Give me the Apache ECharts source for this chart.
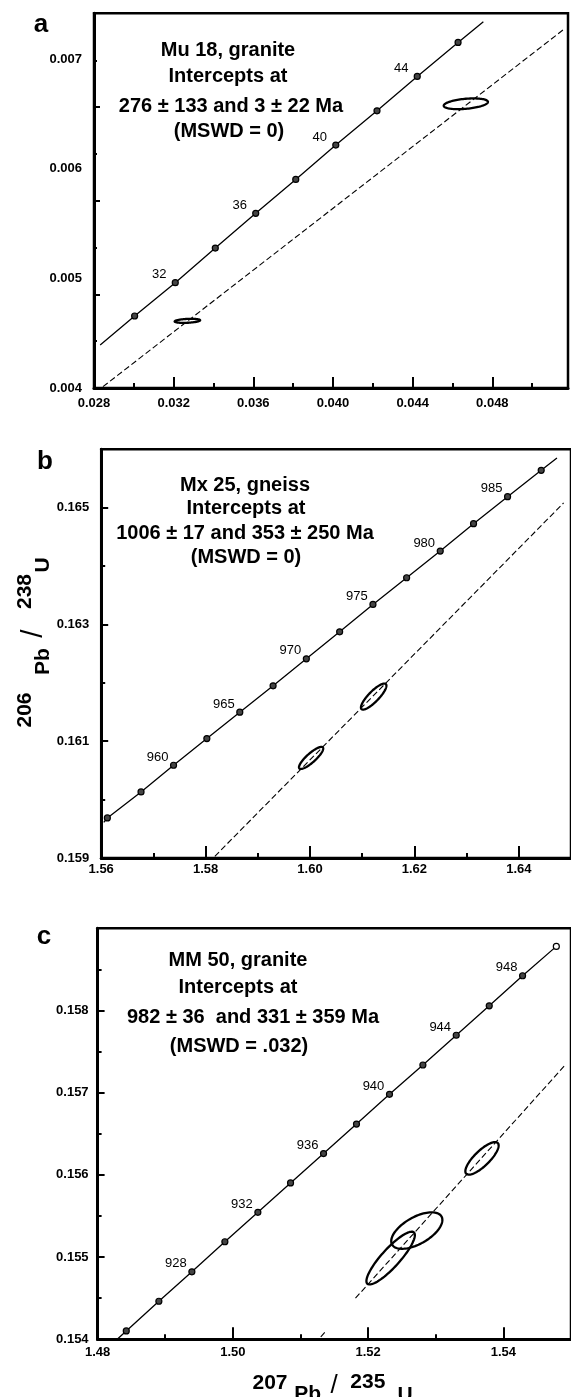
<!DOCTYPE html>
<html>
<head>
<meta charset="utf-8">
<script src="https://cdn.jsdelivr.net/npm/echarts@6/dist/echarts.min.js"></script>
<style>
html,body{margin:0;padding:0;background:#fff;}
#chart{width:571px;height:1397px;}
</style>
</head>
<body>
<div id="chart"></div>
<script>
// ---------------- DATA ----------------
// Panel a : Mu 18, granite
const concA_age = [30, 32, 34, 36, 38, 40, 42, 44, 46];
const concA_x = [0.03004, 0.03208, 0.03409, 0.03612, 0.03813, 0.04014, 0.04221, 0.04423, 0.04628];
const concA_y = [0.004657, 0.004961, 0.005277, 0.005594, 0.005904, 0.006217, 0.006530, 0.006844, 0.007154];
const concA_labeled = [32, 36, 40, 44];
const concA_start = [0.02831, 0.004392];
const concA_end = [0.04755, 0.007342];
const discA_x = [0.02845, 0.05165];
const discA_y = [0.004012, 0.007282];
// error ellipses: centre x, centre y, half-width x, half-height y, correlation
const ellA_x = [0.03269, 0.04667];
const ellA_y = [0.004613, 0.006594];
const ellA_sx = [0.00064, 0.00111];
const ellA_sy = [0.0000185, 0.000049];
const ellA_rho = [0.3, 0.35];
const textA = ['Mu 18, granite', 'Intercepts at', '276 ± 133 and 3 ± 22 Ma', '(MSWD = 0)'];

// Panel b : Mx 25, gneiss
const concB_age = [955, 957.5, 960, 962.5, 965, 967.5, 970, 972.5, 975, 977.5, 980, 982.5, 985, 987.5];
const concB_x = [1.56118, 1.56763, 1.57386, 1.58024, 1.58655, 1.59293, 1.59930, 1.60568, 1.61206, 1.61851, 1.62495, 1.63133, 1.63785, 1.64429];
const concB_y = [0.159686, 0.160131, 0.160589, 0.161046, 0.161497, 0.161949, 0.162411, 0.162874, 0.163343, 0.163800, 0.164257, 0.164726, 0.165189, 0.165640];
const concB_labeled = [960, 965, 970, 975, 980, 985];
const concB_start = [1.56049, 0.159611];
const concB_end = [1.64731, 0.165852];
const discB_x = [1.58177, 1.64858];
const discB_y = [0.159029, 0.165081];
const ellB_x = [1.60021, 1.61220];
const ellB_y = [0.160714, 0.161765];
const ellB_sx = [0.00232, 0.00244];
const ellB_sy = [0.000189, 0.000223];
const ellB_rho = [0.85, 0.84];
const textB = ['Mx 25, gneiss', 'Intercepts at', '1006 ± 17 and 353 ± 250 Ma', '(MSWD = 0)'];

// Panel c : MM 50, granite
const concC_age = [924, 926, 928, 930, 932, 934, 936, 938, 940, 942, 944, 946, 948, 950];
const concC_x = [1.48424, 1.48906, 1.49394, 1.49882, 1.50370, 1.50853, 1.51341, 1.51828, 1.52316, 1.52810, 1.53303, 1.53791, 1.54284, 1.54783];
const concC_y = [0.154102, 0.154463, 0.154821, 0.155187, 0.155545, 0.155902, 0.156260, 0.156618, 0.156980, 0.157337, 0.157699, 0.158057, 0.158423, 0.158780];
const concC_labeled = [928, 932, 936, 940, 944, 948];
const concC_hollow = [950];
const concC_start = [1.48290, 0.154000];
const discC1_x = [1.51300, 1.51370];
const discC1_y = [0.154030, 0.154095];
const discC2_x = [1.51813, 1.54901];
const discC2_y = [0.154500, 0.157325];
const ellC_x = [1.53684, 1.52720, 1.52333];
const ellC_y = [0.156201, 0.155323, 0.154988];
const ellC_sx = [0.00246, 0.00378, 0.00358];
const ellC_sy = [0.000198, 0.000222, 0.000321];
const ellC_rho = [0.79, 0.58, 0.87];
const textC = ['MM 50, granite', 'Intercepts at', '982 ± 36  and 331 ± 359 Ma', '(MSWD = .032)'];

// Axis ticks / labels
const xTickA = [0.028, 0.032, 0.036, 0.040, 0.044, 0.048];
const xMinorA = [0.030, 0.034, 0.038, 0.042, 0.046, 0.050];
const yLabA = [0.004, 0.005, 0.006, 0.007];
const yTickA = [0.004, 0.004855, 0.005710, 0.006564];
const yMinorA = [0.004427, 0.005282, 0.006137, 0.006991];
const xTickB = [1.56, 1.58, 1.60, 1.62, 1.64];
const xMinorB = [1.57, 1.59, 1.61, 1.63];
const yTickB = [0.159, 0.161, 0.163, 0.165];
const yMinorB = [0.160, 0.162, 0.164];
const xTickC = [1.48, 1.50, 1.52, 1.54];
const xMinorC = [1.49, 1.51, 1.53];
const yTickC = [0.154, 0.155, 0.156, 0.157, 0.158];
const yMinorC = [0.1545, 0.1555, 0.1565, 0.1575, 0.1585];

const panelLetters = ['a', 'b', 'c'];
const yNameB = ['206', 'Pb', '/', '238', 'U'];
const xNameC = ['207', 'Pb', '/', '235', 'U'];

// ---------------- BUILD ----------------
const FONT = '"Liberation Sans", Arial, Helvetica, sans-serif';
const zip = (xs, ys) => xs.map((x, i) => [x, ys[i]]);

function mainAxis(dim, gi, min, max, ticks, labels, dec, margin, tickLen) {
  return {
    type: 'value', gridIndex: gi, min: min, max: max,
    position: dim === 'x' ? 'bottom' : 'left',
    axisLine: { show: true, onZero: false, lineStyle: { color: '#000', width: 3 } },
    axisTick: { show: true, inside: true, length: tickLen, customValues: ticks, lineStyle: { color: '#000', width: 2 } },
    axisLabel: {
      show: true, customValues: labels, margin: margin,
      formatter: v => Number(v).toFixed(dec),
      fontFamily: FONT, fontWeight: 'bold', fontSize: 13, color: '#000'
    },
    splitLine: { show: false }
  };
}
function minorAxis(dim, gi, min, max, ticks, tickLen) {
  return {
    type: 'value', gridIndex: gi, min: min, max: max,
    position: dim === 'x' ? 'bottom' : 'left',
    axisLine: { show: false },
    axisTick: { show: true, inside: true, length: tickLen, customValues: ticks, lineStyle: { color: '#000', width: 2 } },
    axisLabel: { show: false },
    splitLine: { show: false }
  };
}

function ellipseRender(params, api) {
  const cx = api.value(0), cy = api.value(1), sx = api.value(2), sy = api.value(3), r = api.value(4);
  const k = Math.sqrt(1 - r * r);
  const pts = [];
  const n = 96;
  for (let i = 0; i < n; i++) {
    const t = i / n * 2 * Math.PI;
    pts.push(api.coord([cx + sx * Math.cos(t), cy + sy * (r * Math.cos(t) + k * Math.sin(t))]));
  }
  return { type: 'polygon', shape: { points: pts }, style: { fill: 'none', stroke: '#000', lineWidth: 2.3 } };
}

function panelSeries(ai, start, xs, ys, ages, end, labeled, hollow, discs, ell) {
  const out = [];
  const lineData = [start].concat(zip(xs, ys));
  if (end) lineData.push(end);
  out.push({
    type: 'line', xAxisIndex: ai, yAxisIndex: ai, data: lineData, symbol: 'none', showSymbol: false,
    lineStyle: { color: '#000', width: 1.3 }, silent: true, z: 2, animation: false
  });
  discs.forEach(d => out.push({
    type: 'line', xAxisIndex: ai, yAxisIndex: ai, data: zip(d[0], d[1]), symbol: 'none', showSymbol: false,
    lineStyle: { color: '#000', width: 1.1, type: [6, 3] }, silent: true, z: 2, animation: false
  }));
  out.push({
    type: 'scatter', xAxisIndex: ai, yAxisIndex: ai, symbol: 'circle', symbolSize: 6, z: 5,
    data: xs.map((x, i) => ({
      value: [x, ys[i], ages[i]],
      itemStyle: { color: hollow.includes(ages[i]) ? '#fff' : '#444', borderColor: '#000', borderWidth: 1.2, opacity: 1 }
    })),
    label: {
      show: true, position: 'inside', offset: [-16, -8], color: '#000', opacity: 1,
      fontFamily: FONT, fontSize: 13,
      formatter: p => labeled.includes(p.value[2]) ? String(p.value[2]) : ''
    },
    emphasis: { disabled: true },
    animation: false
  });
  out.push({
    type: 'custom', xAxisIndex: ai, yAxisIndex: ai, renderItem: ellipseRender, clip: true, z: 4,
    encode: { x: 0, y: 1 },
    data: ell[0].map((x, i) => [x, ell[1][i], ell[2][i], ell[3][i], ell[4][i]]),
    animation: false
  });
  return out;
}

function txt(x, y, s, size, weight) {
  return {
    type: 'text', x: x, y: y, z: 10,
    style: {
      text: s, font: weight + ' ' + size + 'px ' + FONT, fill: '#000',
      align: 'center', verticalAlign: 'middle', textAlign: 'center', textVerticalAlign: 'middle'
    }
  };
}

const grids = [
  { left: 94, top: 13.3, width: 474, height: 374.7 },
  { left: 101.2, top: 449.3, width: 473, height: 408.7 },
  { left: 97.6, top: 928.3, width: 475.6, height: 411 }
].map(g => Object.assign(g, { show: true, borderColor: '#000', borderWidth: 2.5, backgroundColor: 'transparent', containLabel: false }));

const option = {
  animation: false,
  backgroundColor: '#fff',
  grid: grids,
  xAxis: [
    mainAxis('x', 0, 0.028, 0.0518, xTickA, xTickA, 3, 9, 11),
    mainAxis('x', 1, 1.56, 1.65, xTickB, xTickB, 2, 5, 12),
    mainAxis('x', 2, 1.48, 1.55, xTickC, xTickC, 2, 7, 12),
    minorAxis('x', 0, 0.028, 0.0518, xMinorA, 5),
    minorAxis('x', 1, 1.56, 1.65, xMinorB, 5),
    minorAxis('x', 2, 1.48, 1.55, xMinorC, 5)
  ],
  yAxis: [
    mainAxis('y', 0, 0.004, 0.00742, yTickA, yLabA, 3, 12, 6),
    mainAxis('y', 1, 0.159, 0.166, yTickB, yTickB, 3, 12, 7),
    mainAxis('y', 2, 0.154, 0.159, yTickC, yTickC, 3, 9, 7),
    minorAxis('y', 0, 0.004, 0.00742, yMinorA, 3),
    minorAxis('y', 1, 0.159, 0.166, yMinorB, 4),
    minorAxis('y', 2, 0.154, 0.159, yMinorC, 4)
  ],
  series: [].concat(
    panelSeries(0, concA_start, concA_x, concA_y, concA_age, concA_end, concA_labeled, [],
      [[discA_x, discA_y]], [ellA_x, ellA_y, ellA_sx, ellA_sy, ellA_rho]),
    panelSeries(1, concB_start, concB_x, concB_y, concB_age, concB_end, concB_labeled, [],
      [[discB_x, discB_y]], [ellB_x, ellB_y, ellB_sx, ellB_sy, ellB_rho]),
    panelSeries(2, concC_start, concC_x, concC_y, concC_age, null, concC_labeled, concC_hollow,
      [[discC1_x, discC1_y], [discC2_x, discC2_y]], [ellC_x, ellC_y, ellC_sx, ellC_sy, ellC_rho])
  ),
  graphic: [
    txt(41, 25, panelLetters[0], 26, 'bold'),
    txt(45, 462, panelLetters[1], 26, 'bold'),
    txt(44, 937, panelLetters[2], 26, 'bold'),
    txt(228, 50, textA[0], 20, 'bold'),
    txt(228, 76, textA[1], 20, 'bold'),
    txt(231, 106, textA[2], 20, 'bold'),
    txt(229, 131, textA[3], 20, 'bold'),
    txt(245, 485, textB[0], 20, 'bold'),
    txt(246, 508, textB[1], 20, 'bold'),
    txt(245, 533, textB[2], 20, 'bold'),
    txt(246, 557, textB[3], 20, 'bold'),
    txt(238, 960, textC[0], 20, 'bold'),
    txt(238, 987, textC[1], 20, 'bold'),
    txt(253, 1017, textC[2], 20, 'bold'),
    txt(239, 1046, textC[3], 20, 'bold'),
    {
      type: 'group', x: 33, y: 642, rotation: Math.PI / 2,
      children: [
        txt(-68, -7.5, yNameB[0], 21, 'bold'),
        txt(-19.5, 10.7, yNameB[1], 21, 'bold'),
        txt(8.5, 1, yNameB[2], 30, 'normal'),
        txt(50.5, -7.5, yNameB[3], 21, 'bold'),
        txt(77, 10.7, yNameB[4], 21, 'bold')
      ]
    },
    txt(270, 1383, xNameC[0], 21, 'bold'),
    txt(307.7, 1394, xNameC[1], 21, 'bold'),
    txt(334, 1386, xNameC[2], 26, 'normal'),
    txt(367.8, 1382, xNameC[3], 21, 'bold'),
    txt(405, 1395, xNameC[4], 21, 'bold')
  ]
};

const chart = echarts.init(document.getElementById('chart'), null, { renderer: 'canvas' });
chart.setOption(option);
</script>
</body>
</html>
